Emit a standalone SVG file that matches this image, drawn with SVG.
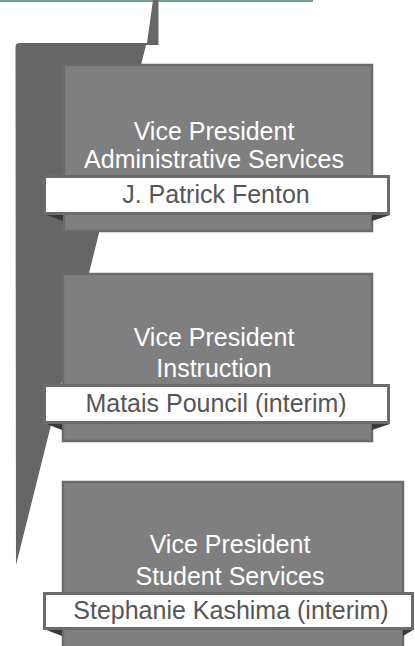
<svg xmlns="http://www.w3.org/2000/svg" width="415" height="646" viewBox="0 0 415 646">
<style>
.box{fill:#7f7f7f;stroke:#6b6b6b;stroke-width:2.5}
.ban{fill:#ffffff;stroke:#6b6b6b;stroke-width:3}
.fold{fill:#3a3a3a}
.t{font-family:"Liberation Sans",Arial,sans-serif;font-size:25px;fill:#ffffff;text-anchor:middle}
.n{font-family:"Liberation Sans",Arial,sans-serif;font-size:25px;fill:#555555;text-anchor:middle}
</style>
<rect x="0" y="0" width="313" height="2" fill="#6f9e95"/>
<g id="connectors">
<path d="M153,0 L158.5,0 L158.5,45 L146,45 L16,565 L15.5,47 Q15.5,43 19.5,43 L147,43 Z" fill="#666666"/>
</g>
<g id="node1">
<rect class="box" x="64" y="65" width="308" height="166"/>
<polygon class="fold" points="44,214 63,214 63,221"/>
<polygon class="fold" points="372,215 390,215 372,221"/>
<rect class="ban" x="44.5" y="176.5" width="344" height="37"/>
<text class="t" x="214" y="140">Vice President</text>
<text class="t" x="214" y="168">Administrative Services</text>
<text class="n" x="216" y="203">J. Patrick Fenton</text>
</g>
<g id="node2">
<rect class="box" x="63" y="274" width="309" height="167"/>
<polygon class="fold" points="44,423 62,423 62,430"/>
<polygon class="fold" points="372,424 390,424 372,430"/>
<rect class="ban" x="44.5" y="385.5" width="344" height="37"/>
<text class="t" x="214" y="346">Vice President</text>
<text class="t" x="214" y="377">Instruction</text>
<text class="n" x="216" y="412">Matais Pouncil (interim)</text>
</g>
<g id="node3">
<rect class="box" x="63" y="482" width="340" height="180"/>
<polygon class="fold" points="44,629 62,629 62,636"/>
<polygon class="fold" points="403,630 413,630 403,636"/>
<rect class="ban" x="44.5" y="593.5" width="368" height="35"/>
<text class="t" x="230" y="553">Vice President</text>
<text class="t" x="230" y="585">Student Services</text>
<text class="n" x="231" y="619">Stephanie Kashima (interim)</text>
</g>
</svg>
